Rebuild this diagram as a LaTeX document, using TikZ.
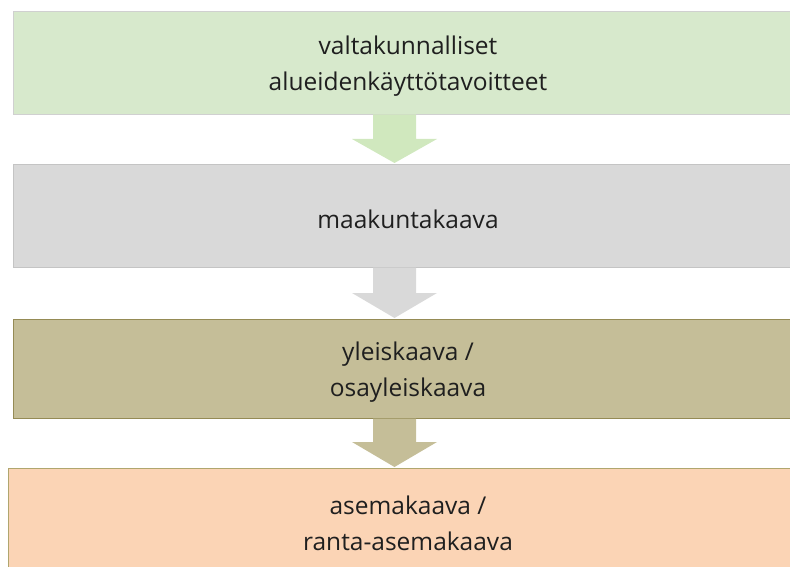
\documentclass[tikz,border=0pt]{standalone}
\usepackage{fontspec}
\setmainfont{Open Sans}
\definecolor{gfill}{HTML}{D7E9CC}
\definecolor{gline}{HTML}{D0D0D0}
\definecolor{garrow}{HTML}{D0E8BE}
\definecolor{grfill}{HTML}{D9D9D9}
\definecolor{grline}{HTML}{C4C4C4}
\definecolor{ofill}{HTML}{C5BE98}
\definecolor{oline}{HTML}{958B55}
\definecolor{rfill}{HTML}{FBD4B5}
\definecolor{rline}{HTML}{B0A66E}
\tikzset{
  boxtext/.style={font=\fontsize{24.5}{36}\selectfont, text=black!88, align=center, yshift=-3pt},
  box/.style={draw, line width=1pt, anchor=north west, minimum width=789pt,
    minimum height=103pt, inner sep=0pt}
}
\begin{document}
\begin{tikzpicture}[x=1pt,y=-1pt]
\useasboundingbox (0,0) rectangle (790,567);
\begin{scope}
\clip (0,0) rectangle (790,567);
\node[box, fill=gfill, draw=gline] (b1) at (13,11) {};
\node[box, fill=grfill, draw=grline] (b2) at (13,164) {};
\node[box, fill=ofill, draw=oline, minimum height=99pt] (b3) at (13,319) {};
\node[box, fill=rfill, draw=rline, minimum width=799pt, minimum height=104pt] (b4) at (8,468) {};
\node[boxtext] (t1) at (b1.center) {valtakunnalliset\\alueidenkäyttötavoitteet};
\node[boxtext] (t2) at (b2.center) {maakuntakaava};
\node[boxtext] (t3) at (b3.center) {yleiskaava /\\osayleiskaava};
\node[boxtext] (t4) at (b4.center) {asemakaava /\\ranta-asemakaava};
\end{scope}
\coordinate (p1) at (394.5,163);
\coordinate (p2) at (394.5,318);
\coordinate (p3) at (394.5,467);
\fill[garrow] (373,114.5) -- (416,114.5) -- (416,139) -- (437,139) -- (p1) -- (352,139) -- (373,139) -- cycle;
\fill[grfill] (373,267.5) -- (416,267.5) -- (416,293) -- (437,293) -- (p2) -- (352,293) -- (373,293) -- cycle;
\fill[ofill] (373,418.5) -- (416,418.5) -- (416,442) -- (437,442) -- (p3) -- (352,442) -- (373,442) -- cycle;
\end{tikzpicture}
\end{document}
